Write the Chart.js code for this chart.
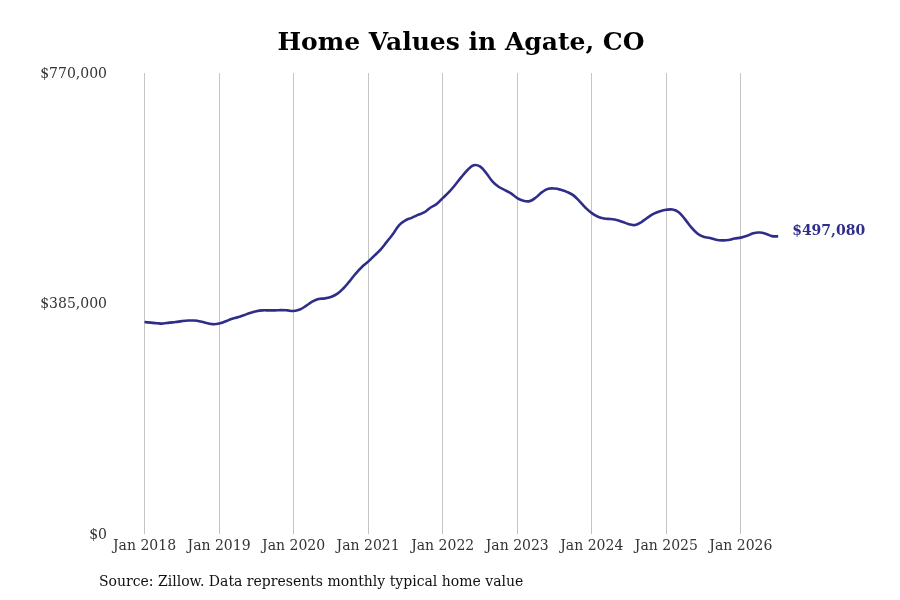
<!DOCTYPE html>
<html lang="en">
<head>
    <meta charset="UTF-8">
    <title>Home Values in Agate, CO</title>
    <script src="https://cdn.jsdelivr.net/npm/chart.js@4.4.1/dist/chart.umd.min.js"></script>
    <style>
        html, body {
            margin: 0;
            padding: 0;
            background: #ffffff;
        }
        #wrap {
            width: 900px;
            height: 600px;
            position: relative;
        }
    </style>
</head>
<body>
    <div id="wrap"><canvas id="chart" width="900" height="600"></canvas></div>

    <script>
        // monthly typical home value, Jan 2018 .. Jul 2026
        const homeValues = [
            354000, 353000, 352000, 351500, 353000, 354000, 355500, 356500, 356500, 355000, 352500, 350500,
            351500, 355000, 359000, 362000, 365500, 369000, 372000, 373500, 373500, 373500, 374000, 373500,
            372500, 375000, 381000, 388000, 392500, 393500, 396000, 401000, 410000, 422000, 435000, 446000,
            455000, 465000, 475000, 488000, 501000, 516000, 524000, 528000, 533000, 537000, 545000, 551000,
            561000, 571000, 583000, 596000, 608000, 616000, 614000, 603000, 589000, 580000, 574500, 569000,
            561000, 556500, 556000, 562000, 571000, 576500, 577000, 575000, 571500, 566000, 556000, 545000,
            536000, 530000, 527000, 526000, 524500, 521000, 517500, 516000, 521000, 528500, 535000, 539000,
            541500, 542000, 537500, 526000, 512500, 502000, 496500, 494500, 491500, 490500, 491000, 493500,
            495000, 498000, 502500, 503500, 501500, 497500, 497080
        ];
        const xTickLabels = ['Jan 2018', 'Jan 2019', 'Jan 2020', 'Jan 2021', 'Jan 2022', 'Jan 2023', 'Jan 2024', 'Jan 2025', 'Jan 2026'];
        const yTicks = [0, 385000, 770000];
        const lastLabel = '$497,080';

        const navy = '#2f2d8a';
        const serif = "'DejaVu Serif', 'Liberation Serif', serif";

        // month index -> point
        const points = homeValues.map((v, i) => ({ x: i, y: v }));

        function money(v) {
            return '$' + v.toLocaleString('en-US');
        }

        // title, y labels, end label and source line
        const extras = {
            id: 'extras',
            afterDraw(chart) {
                const ctx = chart.ctx;
                ctx.save();
                ctx.fillStyle = '#000';
                ctx.font = 'bold 25px ' + serif;
                ctx.textAlign = 'center';
                ctx.textBaseline = 'middle';
                ctx.fillText('Home Values in Agate, CO', 461, 43);

                // y tick labels, sat a touch below their tick like the original
                const y = chart.scales.y;
                ctx.fillStyle = '#333';
                ctx.font = '14px ' + serif;
                ctx.textAlign = 'right';
                yTicks.forEach(v => {
                    ctx.fillText(money(v), 107, y.getPixelForValue(v) + 1);
                });

                const meta = chart.getDatasetMeta(0);
                const last = meta.data[meta.data.length - 1];
                ctx.fillStyle = navy;
                ctx.font = 'bold 14px ' + serif;
                ctx.textAlign = 'left';
                ctx.fillText(lastLabel, last.x + 14, last.y - 5);

                ctx.fillStyle = '#111';
                ctx.font = '14px ' + serif;
                ctx.fillText('Source: Zillow. Data represents monthly typical home value', 99, 582);
                ctx.restore();
            }
        };

        new Chart(document.getElementById('chart'), {
            type: 'line',
            data: {
                datasets: [{
                    data: points,
                    borderColor: navy,
                    borderWidth: 2.6,
                    pointRadius: 0,
                    tension: 0.4,
                    fill: false
                }]
            },
            options: {
                responsive: false,
                animation: false,
                layout: { padding: { top: 73, right: 120, left: 0, bottom: 0 } },
                plugins: {
                    legend: { display: false },
                    tooltip: { enabled: false }
                },
                scales: {
                    x: {
                        type: 'linear',
                        min: -4.75,
                        max: 102.3,
                        afterFit(scale) { scale.height = 66; },
                        afterBuildTicks(scale) {
                            scale.ticks = xTickLabels.map((l, i) => ({ value: i * 12 }));
                        },
                        ticks: {
                            padding: 4,
                            color: '#333',
                            font: { family: serif, size: 14 },
                            maxRotation: 0,
                            autoSkip: false,
                            callback: (v) => xTickLabels[Math.round(v / 12)]
                        },
                        grid: { color: '#c4c4c4', lineWidth: 1, drawTicks: false },
                        border: { display: false }
                    },
                    y: {
                        min: 0,
                        max: 770000,
                        afterFit(scale) { scale.width = 115; },
                        afterBuildTicks(scale) {
                            scale.ticks = yTicks.map(v => ({ value: v }));
                        },
                        ticks: { display: false },
                        grid: { display: false, drawTicks: false },
                        border: { display: false }
                    }
                }
            },
            plugins: [extras]
        });
    </script>
</body>
</html>
